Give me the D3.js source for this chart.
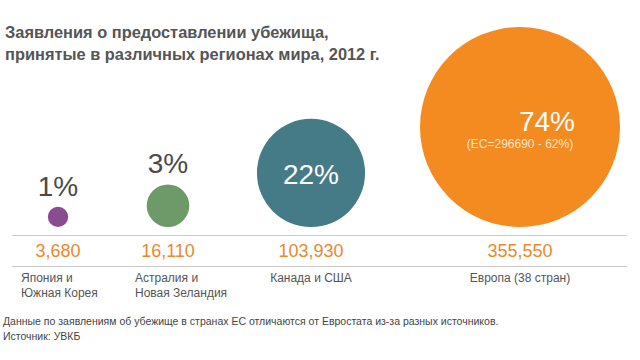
<!DOCTYPE html>
<html>
<head>
<meta charset="utf-8">
<script src="https://cdn.jsdelivr.net/npm/d3@7"></script>
<style>
  body { margin: 0; background: #fff; }
  text { font-family: "Liberation Sans", Arial, sans-serif; }
</style>
</head>
<body>
<svg id="chart" width="640" height="360"></svg>
<script>
  // Data.
  var regions  = [ 'Япония и|Южная Корея', 'Астралия и|Новая Зеландия', 'Канада и США', 'Европа (38 стран)' ],
      counts   = [ 3680, 16110, 103930, 355550 ],
      shares   = [ '1%', '3%', '22%', '74%' ],
      colors   = [ '#8a4c90', '#6e9a69', '#447b86', '#f48b21' ],
      euNote   = '(ЕС=296690 - 62%)';

  var svg = d3.select( '#chart' );

  var baseY   = 227,
      lineTop = 235,
      lineBot = 266;

  // Circle positions along the row.
  var x = d3.scaleOrdinal()
    .domain( d3.range( counts.length ) )
    .range([ 58, 168, 311, 520 ]);

  // Circle area proportional to count.
  var r = d3.scaleSqrt()
    .domain([ 0, d3.max( counts ) ])
    .range([ 0, 100 ]);

  var fmt = d3.format( ',' );

  // Title.
  svg.append( 'text' )
    .attr( 'x', 5 )
    .attr( 'y', 38 )
    .style( 'font-size', '16.4px' )
    .style( 'font-weight', 'bold' )
    .style( 'fill', '#555' )
    .selectAll( 'tspan' )
    .data([ 'Заявления о предоставлении убежища,', 'принятые в различных регионах мира, 2012 г.' ])
    .join( 'tspan' )
      .attr( 'x', 5 )
      .attr( 'dy', function( d, i ) { return i ? 22 : 0; })
      .text( function( d ) { return d; });

  // Rules.
  svg.selectAll( 'line.rule' )
    .data([ lineTop, lineBot ])
    .join( 'line' )
      .attr( 'class', 'rule' )
      .attr( 'x1', 12 )
      .attr( 'x2', 627 )
      .attr( 'y1', function( d ) { return d + 0.5; })
      .attr( 'y2', function( d ) { return d + 0.5; })
      .style( 'stroke', '#c8c8c8' );

  var idx = d3.range( counts.length );

  // Circles, bottom aligned.
  svg.selectAll( 'circle' )
    .data( idx )
    .join( 'circle' )
      .attr( 'cx', function( i ) { return x( i ); })
      .attr( 'cy', function( i ) { return baseY - r( counts[ i ] ); })
      .attr( 'r', function( i ) { return r( counts[ i ] ); })
      .style( 'fill', function( i ) { return colors[ i ]; });

  // Percent labels: above small circles, inside large ones.
  svg.selectAll( 'text.share' )
    .data( idx )
    .join( 'text' )
      .attr( 'class', 'share' )
      .attr( 'text-anchor', 'middle' )
      .attr( 'x', function( i ) { return i === 3 ? x( i ) + 27 : x( i ); })
      .attr( 'y', function( i ) {
        var rr = r( counts[ i ] );
        if ( i < 2 ) return baseY - 2 * rr - 11;
        return i === 3 ? baseY - rr + 4 : baseY - rr + 11;
      })
      .style( 'font-size', '28px' )
      .style( 'fill', function( i ) { return i < 2 ? '#4a4a4a' : '#fff'; })
      .text( function( i ) { return shares[ i ]; });

  svg.append( 'text' )
    .attr( 'text-anchor', 'middle' )
    .attr( 'x', x( 3 ) )
    .attr( 'y', baseY - r( counts[ 3 ] ) + 21 )
    .style( 'font-size', '12px' )
    .style( 'fill', '#fde3c6' )
    .text( euNote );

  // Counts between the rules.
  svg.selectAll( 'text.count' )
    .data( idx )
    .join( 'text' )
      .attr( 'class', 'count' )
      .attr( 'text-anchor', 'middle' )
      .attr( 'x', function( i ) { return x( i ); })
      .attr( 'y', 257 )
      .style( 'font-size', '18px' )
      .style( 'fill', '#e8892e' )
      .text( function( i ) { return fmt( counts[ i ] ); });

  // Region names.
  var labelX = [ 21, 135, x( 2 ), x( 3 ) ];
  svg.selectAll( 'text.region' )
    .data( idx )
    .join( 'text' )
      .attr( 'class', 'region' )
      .attr( 'text-anchor', function( i ) { return i < 2 ? 'start' : 'middle'; })
      .attr( 'y', 282 )
      .style( 'font-size', '12px' )
      .style( 'fill', '#555' )
      .each( function( i ) {
        d3.select( this ).selectAll( 'tspan' )
          .data( regions[ i ].split( '|' ) )
          .join( 'tspan' )
            .attr( 'x', labelX[ i ] )
            .attr( 'dy', function( d, j ) { return j ? 15 : 0; })
            .text( function( d ) { return d; });
      });

  // Footer.
  svg.append( 'text' )
    .attr( 'y', 325 )
    .style( 'font-size', '10.5px' )
    .style( 'fill', '#444' )
    .selectAll( 'tspan' )
    .data([ 'Данные по заявлениям об убежище в странах ЕС отличаются от Евростата из-за разных источников.', 'Источник: УВКБ' ])
    .join( 'tspan' )
      .attr( 'x', 3 )
      .attr( 'dy', function( d, i ) { return i ? 15 : 0; })
      .text( function( d ) { return d; });
</script>
</body>
</html>
